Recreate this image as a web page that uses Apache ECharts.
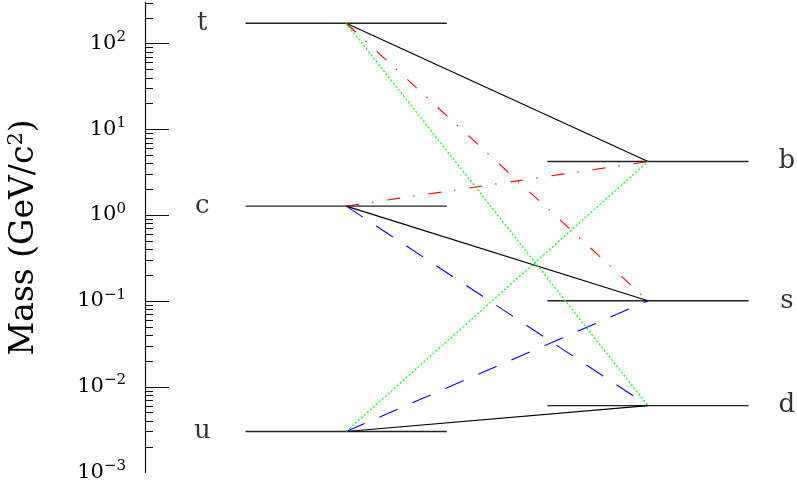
<!DOCTYPE html>
<html><head><meta charset="utf-8">
<script src="https://cdn.jsdelivr.net/npm/echarts@6/dist/echarts.min.js"></script>
<style>html,body{margin:0;padding:0;background:#fff}#c{width:797px;height:485px}</style>
</head><body><div id="c"></div>
<script>
// ---- data ----
const upQuarks = ['u', 'c', 't'];
const upMasses = [0.003, 1.27, 172];       // GeV/c^2
const downQuarks = ['d', 's', 'b'];
const downMasses = [0.006, 0.1, 4.2];      // GeV/c^2
const solidLinks   = [['t', 'b'], ['c', 's'], ['u', 'd']];
const dashDotLinks = [['t', 's'], ['c', 'b']];
const dashedLinks  = [['c', 'd'], ['u', 's']];
const dottedLinks  = [['t', 'd'], ['u', 'b']];
const majorTickValues = [0.01, 0.1, 1, 10, 100];
const minorTickValues = [
  0.002, 0.003, 0.004, 0.005, 0.006, 0.007, 0.008, 0.009,
  0.02, 0.03, 0.04, 0.05, 0.06, 0.07, 0.08, 0.09,
  0.2, 0.3, 0.4, 0.5, 0.6, 0.7, 0.8, 0.9,
  2, 3, 4, 5, 6, 7, 8, 9,
  20, 30, 40, 50, 60, 70, 80, 90,
  200, 300
];
const yMin = 0.001, yMax = 300;

// ---- layout ----
const FONT = 'DejaVu Serif';
const upCenter = 2, downCenter = 5, halfWidth = 1;
const upLabelX = 0.57, downLabelX = 6.38;

const upMass = Object.fromEntries(upQuarks.map((q, i) => [q, upMasses[i]]));
const downMass = Object.fromEntries(downQuarks.map((q, i) => [q, downMasses[i]]));

const series = [];
function levelSeries(center, masses) {
  masses.forEach(m => series.push({
    type: 'line', symbol: 'none', silent: true, z: 2,
    data: [[center - halfWidth, m], [center + halfWidth, m]],
    lineStyle: { color: '#222', width: 1.4 }
  }));
}
levelSeries(upCenter, upMasses);
levelSeries(downCenter, downMasses);

function linkSeries(links, color, type, width) {
  links.forEach(([u, d]) => series.push({
    type: 'line', symbol: 'none', silent: true, z: 3,
    data: [[upCenter, upMass[u]], [downCenter, downMass[d]]],
    lineStyle: { color: color, width: width, type: type }
  }));
}
linkSeries(solidLinks, '#000', 'solid', 1.1);
linkSeries(dashDotLinks, '#ff0000', [13, 13, 1.5, 14], 1.1);
linkSeries(dashedLinks, '#0000ff', [20, 16], 1.1);
linkSeries(dottedLinks, '#00ff00', [2, 2], 1.2);

series.push({
  type: 'scatter', symbolSize: 1, itemStyle: { color: 'rgba(0,0,0,0)' }, silent: true,
  data: upQuarks.map((q, i) => ({ name: q, value: [upLabelX, upMasses[i]] }))
    .concat(downQuarks.map((q, i) => ({ name: q, value: [downLabelX, downMasses[i]] }))),
  label: { show: true, position: 'inside', formatter: '{b}', color: '#000', fontSize: 26, fontFamily: FONT }
});

function tickSeries(values, len) {
  series.push({
    type: 'custom', silent: true, clip: false, z: 5,
    encode: { x: 0, y: 1 },
    data: values.map(v => [0, v]),
    renderItem: (params, api) => {
      const p = api.coord([0, api.value(1)]);
      const y = Math.round(p[1]) + 0.5;
      return { type: 'line', shape: { x1: p[0], y1: y, x2: p[0] + len, y2: y },
               style: { stroke: '#111', lineWidth: 1 } };
    }
  });
}
tickSeries(majorTickValues, 24);
tickSeries(minorTickValues, 8);

const chart = echarts.init(document.getElementById('c'), null, { renderer: 'canvas' });
chart.setOption({
  animation: false,
  backgroundColor: '#fff',
  grid: { left: 145, top: 2.5, width: 653.9, height: 469.9, containLabel: false, outerBoundsMode: 'none' },
  xAxis: { type: 'value', min: 0, max: 6.5, show: false },
  yAxis: {
    type: 'log', logBase: 10, min: yMin, max: yMax, splitNumber: 5,
    axisLine: { show: true, lineStyle: { color: '#111', width: 1.2 } },
    axisTick: { show: false },
    splitLine: { show: false },
    axisLabel: {
      margin: 19, showMaxLabel: false,
      formatter: v => {
        const e = Math.round(Math.log10(v));
        return '{m|10}{s|' + (e < 0 ? '\u2212' + (-e) : e) + '}';
      },
      rich: {
        m: { fontSize: 21, fontFamily: FONT, color: '#000' },
        s: { fontSize: 15, fontFamily: FONT, color: '#000', padding: [0, 0, 12, 0] }
      }
    },
    name: '{n|Mass (GeV/c}{s|2}{n|)}',
    nameLocation: 'middle', nameRotate: 90, nameGap: 102,
    nameTextStyle: {
      rich: {
        n: { fontSize: 33, fontFamily: FONT, color: '#000' },
        s: { fontSize: 21, fontFamily: FONT, color: '#000', padding: [0, 0, 16, 0] }
      }
    }
  },
  series: series
});
</script></body></html>
